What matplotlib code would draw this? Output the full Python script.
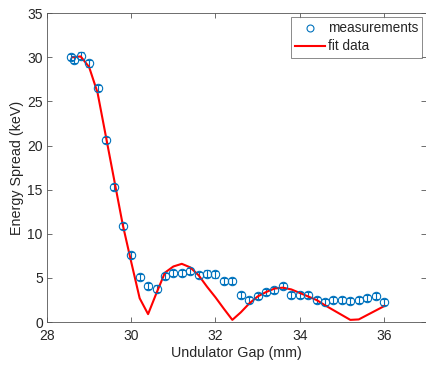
import numpy as np
import matplotlib
matplotlib.use("Agg")
import matplotlib.pyplot as plt
from matplotlib.lines import Line2D

plt.rcParams['font.family'] = ['Liberation Sans', 'DejaVu Sans']

# measured energy spread vs undulator gap
gap_meas = [28.58, 28.64, 28.8, 29.0, 29.2, 29.4, 29.6, 29.8, 30.0, 30.2,
            30.4, 30.6, 30.8, 31.0, 31.2, 31.4, 31.6, 31.8, 32.0, 32.2,
            32.4, 32.6, 32.8, 33.0, 33.2, 33.4, 33.6, 33.8, 34.0, 34.2,
            34.4, 34.6, 34.8, 35.0, 35.2, 35.4, 35.6, 35.8, 36.0]
spread_meas = [30.0, 29.75, 30.2, 29.3, 26.5, 20.6, 15.3, 10.9, 7.6, 5.1,
               4.1, 3.8, 5.2, 5.6, 5.6, 5.8, 5.3, 5.5, 5.4, 4.7,
               4.7, 3.1, 2.5, 3.0, 3.4, 3.6, 4.1, 3.1, 3.1, 3.1,
               2.5, 2.3, 2.5, 2.5, 2.4, 2.5, 2.7, 3.0, 2.3]
spread_err = [0.35] * len(gap_meas)

# fit curve
gap_fit = [28.6, 28.8, 29.0, 29.2, 29.4, 29.6, 29.8, 30.0, 30.2, 30.4,
           30.6, 30.8, 31.0, 31.2, 31.4, 31.6, 31.8, 32.0, 32.2, 32.4,
           32.6, 32.8, 33.0, 33.2, 33.4, 33.6, 33.8, 34.0, 34.2, 34.4,
           34.6, 34.8, 35.0, 35.2, 35.4, 35.6, 35.8, 36.0]
spread_fit = [30.0, 30.1, 28.9, 26.0, 21.0, 16.0, 11.0, 6.8, 2.7, 0.9,
              3.3, 5.6, 6.3, 6.6, 6.2, 5.3, 4.0, 2.8, 1.5, 0.25,
              1.1, 2.1, 2.9, 3.4, 3.8, 3.9, 3.7, 3.3, 2.9, 2.5,
              1.9, 1.35, 0.8, 0.25, 0.3, 0.8, 1.3, 1.8]

blue = '#0072BD'
red = '#FF0000'
txt = '#262626'

fig = plt.figure(figsize=(4.27, 3.66), dpi=100)
ax = fig.add_axes([0.110, 0.120, 0.888, 0.844])

ax.errorbar(gap_meas, spread_meas, yerr=spread_err, fmt='o', color=blue,
            mfc='none', mec=blue, ms=6, mew=0.8, elinewidth=0.8,
            capsize=2.5, capthick=0.8)
ax.plot(gap_fit, spread_fit, color=red, lw=1.5)

ax.set_xlim(28, 37)
ax.set_ylim(0, 35)
ax.set_xticks([28, 30, 32, 34, 36])
ax.set_yticks(np.arange(0, 36, 5))

ax.tick_params(direction='in', top=True, right=True, length=3.5, width=0.6,
               colors='#555555', labelcolor=txt, labelsize=10, pad=3)
ax.tick_params(axis='x', pad=5)
for s in ax.spines.values():
    s.set_color('#555555')
    s.set_linewidth(0.6)

ax.set_xlabel('Undulator Gap (mm)', fontsize=10.3, color=txt, labelpad=2)
ax.set_ylabel('Energy Spread (keV)', fontsize=10.3, color=txt, labelpad=2)

h_meas = Line2D([], [], ls='none', marker='o', mfc='none', mec=blue, ms=5, mew=0.8)
h_fit = Line2D([], [], color=red, lw=1.5)
leg = ax.legend([h_meas, h_fit], ['measurements', 'fit data'], loc='upper right',
                fontsize=9.8, frameon=True, fancybox=False, borderpad=0.3,
                labelspacing=0.3, handlelength=2.2, handletextpad=0.2,
                borderaxespad=0.3)
leg.get_frame().set_edgecolor('#555555')
leg.get_frame().set_linewidth(0.6)
for t in leg.get_texts():
    t.set_color(txt)

fig.savefig('out.png', dpi=100)
